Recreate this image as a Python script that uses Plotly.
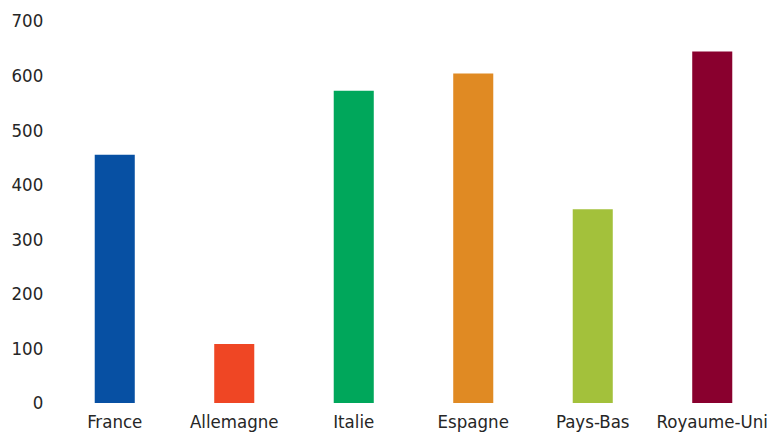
import plotly.graph_objects as go

categories = ["France", "Allemagne", "Italie", "Espagne", "Pays-Bas", "Royaume-Uni"]
values = [455, 108, 572, 604, 355, 644]
colors = ["#0750A3", "#EF4624", "#00A75B", "#E08A23", "#A3C13B", "#89002E"]
y_ticks = [0, 100, 200, 300, 400, 500, 600, 700]

FONT = "DejaVu Sans Condensed, Liberation Sans Narrow, Arial Narrow, sans-serif"
FSIZE = 18.5
FCOLOR = "#262626"

fig = go.Figure(
    go.Bar(
        x=categories,
        y=values,
        marker=dict(color=colors, line=dict(width=0)),
        hoverinfo="x+y",
    )
)

fig.update_layout(
    width=772,
    height=436,
    margin=dict(l=55, r=0, t=21, b=33, pad=0),
    paper_bgcolor="white",
    plot_bgcolor="white",
    bargap=0.665,
    showlegend=False,
    font=dict(family=FONT, size=FSIZE, color=FCOLOR),
)

fig.update_xaxes(
    type="category",
    showgrid=False,
    showline=False,
    zeroline=False,
    ticks="outside",
    ticklen=2,
    tickcolor="rgba(0,0,0,0)",
    automargin=False,
    ticklabeloverflow="allow",
    tickfont=dict(family=FONT, size=FSIZE, color=FCOLOR),
)

fig.update_yaxes(
    range=[0, 700],
    tickvals=y_ticks,
    ticktext=[str(v) for v in y_ticks],
    showgrid=False,
    showline=False,
    zeroline=False,
    ticks="outside",
    ticklen=7,
    tickcolor="rgba(0,0,0,0)",
    automargin=False,
    tickfont=dict(family=FONT, size=FSIZE, color=FCOLOR),
)

# remove the page's default body margin so the figure fills the window exactly
fig.write_html(
    "out.html",
    config={"displayModeBar": False},
    post_script="document.body.style.margin='0';document.body.style.overflow='hidden';",
)
